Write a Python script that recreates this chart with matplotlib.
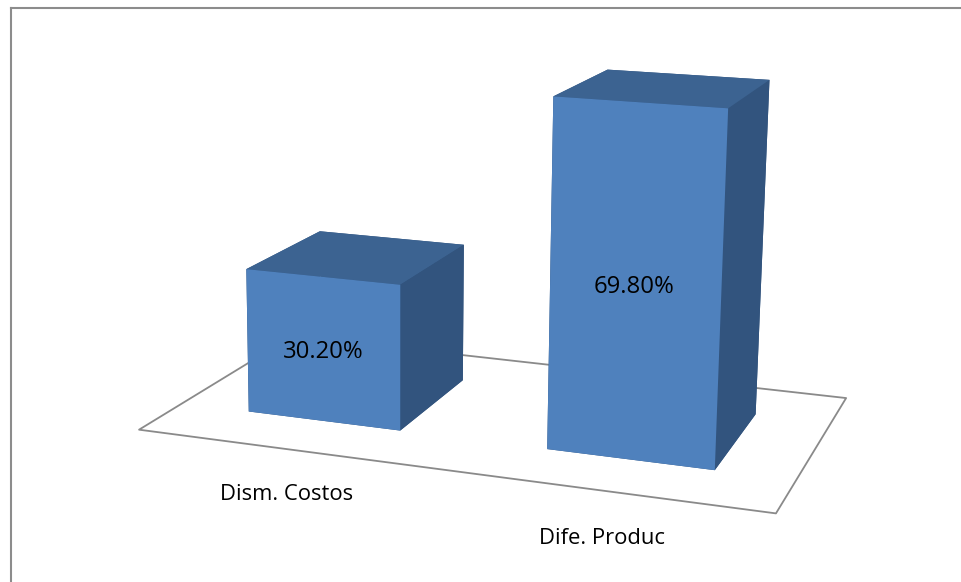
import matplotlib.pyplot as plt
from matplotlib.lines import Line2D
from mpl_toolkits.mplot3d.art3d import Poly3DCollection
import numpy as np

# data
categories = ['Dism. Costos', 'Dife. Produc']
values = [30.20, 69.80]
value_labels = ['30.20%', '69.80%']

plt.rcParams['font.family'] = ['Open Sans', 'DejaVu Sans']

front_col = '#4F81BD'
top_col = '#3C6391'
side_col = '#32547E'

fig = plt.figure(figsize=(9.61, 5.82), dpi=100)
S = 900
cx, cy = 493, 236
ax = fig.add_axes([(cx - S / 2) / 961, (582 - cy - S / 2) / 582, S / 961, S / 582],
                  projection='3d', computed_zorder=False)

depth = 1.12
bar_w = 0.52
bar_d = depth * 0.5
zmax = 80

ax.set_xlim(0, len(categories))
ax.set_ylim(0, depth)
ax.set_zlim(0, zmax)
ax.set_box_aspect((2, depth, 1.24), zoom=0.899)
ax.set_proj_type('persp', focal_length=0.42)
ax.view_init(elev=13, azim=-71, roll=-0.7)
ax.set_axis_off()

# floor
floor = Poly3DCollection([[(0, 0, 0), (len(categories), 0, 0),
                           (len(categories), depth, 0), (0, depth, 0)]],
                         facecolor='white', edgecolor='#8a8a8a', linewidth=1.3)
floor.set_zorder(1)
ax.add_collection3d(floor)

# bars: face order bottom, top, front, back, left, right
xs = np.arange(len(categories)) + 0.5 - bar_w / 2
ys = np.full(len(categories), (depth - bar_d) / 2)
face_cols = []
for _ in categories:
    face_cols += [side_col, top_col, front_col, side_col, side_col, side_col]
bars = ax.bar3d(xs, ys, np.zeros(len(categories)), bar_w, bar_d, values,
                color=face_cols, shade=False, edgecolor='none', zorder=2)

for i, v in enumerate(values):
    ax.text(i + 0.5, ys[i], v / 2 - 0.5, value_labels[i], ha='center', va='center',
            fontsize=17.2, color='black', zorder=5)
    ax.text(i + 0.5, 0, -9.5, categories[i], ha='center', va='center',
            fontsize=15.8, color='black', zorder=5)

# outer frame (left and top edges)
fig.add_artist(Line2D([10.5 / 961, 10.5 / 961], [0, 1 - 8 / 582],
                      transform=fig.transFigure, color='#8c8c8c', lw=1.5))
fig.add_artist(Line2D([10.5 / 961, 1], [1 - 8 / 582, 1 - 8 / 582],
                      transform=fig.transFigure, color='#8c8c8c', lw=1.5))

fig.savefig('out.png', dpi=100)
